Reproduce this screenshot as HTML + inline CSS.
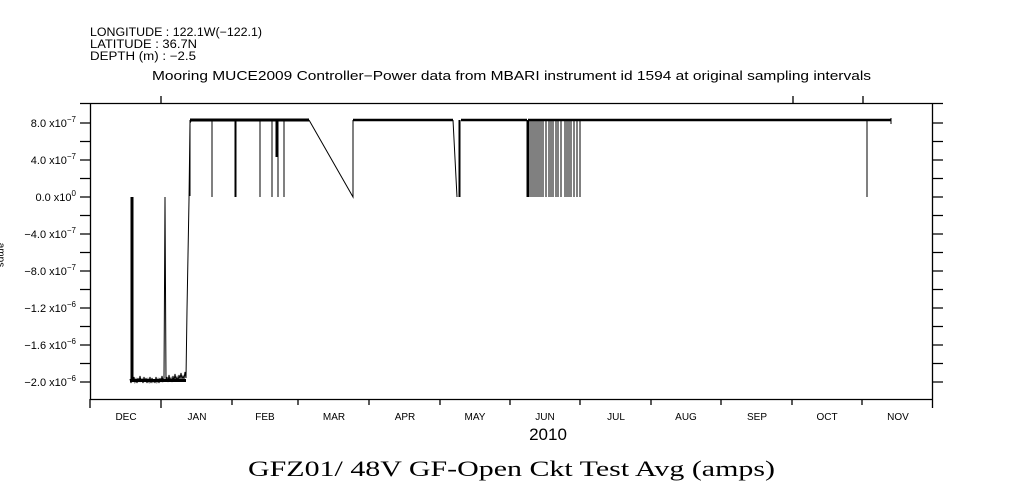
<!DOCTYPE html>
<html><head><style>
body{margin:0;background:#fff;}
svg{display:block;font-family:"Liberation Sans",sans-serif;}
</style></head><body>
<svg width="1009" height="504" viewBox="0 0 1009 504" xmlns="http://www.w3.org/2000/svg">
<rect width="1009" height="504" fill="#fff"/>
<g font-size="11.5" fill="#000">
<text x="90" y="36" textLength="172" lengthAdjust="spacingAndGlyphs">LONGITUDE : 122.1W(−122.1)</text>
<text x="90" y="48" textLength="107" lengthAdjust="spacingAndGlyphs">LATITUDE : 36.7N</text>
<text x="90" y="60" textLength="106" lengthAdjust="spacingAndGlyphs">DEPTH (m) : −2.5</text>
<text x="152" y="80" font-size="12.5" textLength="719" lengthAdjust="spacingAndGlyphs">Mooring MUCE2009 Controller−Power data from MBARI instrument id 1594 at original sampling intervals</text>
</g>
<g stroke="#000" stroke-width="1.3" fill="none">
<path d="M80 103.5H943 M90.5 103.5V399.5H933 M932.5 103.5V408"/>
<path d="M161 96V103 M793 96V103 M863 96V103"/>
<path d="M90 399V408 M161 399V408 M232 399V405 M298 399V405 M369 399V405 M440 399V405 M510 399V405 M580 399V405 M651 399V405 M721 399V405 M792 399V405 M862 399V405"/>
<path d="M80 123H90 M80 141.5H90 M80 160H90 M80 178.5H90 M80 197H90 M80 215.5H90 M80 234H90 M80 252.5H90 M80 271H90 M80 289.5H90 M80 308H90 M80 326.5H90 M80 345H90 M80 363.5H90 M80 382H90"/>
<path d="M933 123H943 M933 141.5H943 M933 160H943 M933 178.5H943 M933 197H943 M933 215.5H943 M933 234H943 M933 252.5H943 M933 271H943 M933 289.5H943 M933 308H943 M933 326.5H943 M933 345H943 M933 363.5H943 M933 382H943"/>
</g>
<g font-size="11" text-anchor="end">
<text x="76" y="127">8.0 x10<tspan font-size="8" dy="-5">−7</tspan></text>
<text x="76" y="164">4.0 x10<tspan font-size="8" dy="-5">−7</tspan></text>
<text x="76" y="201">0.0 x10<tspan font-size="8" dy="-5">0</tspan></text>
<text x="76" y="238">−4.0 x10<tspan font-size="8" dy="-5">−7</tspan></text>
<text x="76" y="275">−8.0 x10<tspan font-size="8" dy="-5">−7</tspan></text>
<text x="76" y="312">−1.2 x10<tspan font-size="8" dy="-5">−6</tspan></text>
<text x="76" y="349">−1.6 x10<tspan font-size="8" dy="-5">−6</tspan></text>
<text x="76" y="386">−2.0 x10<tspan font-size="8" dy="-5">−6</tspan></text>
</g>
<text x="-2" y="255" font-size="10" transform="rotate(90 -2 255)" text-anchor="middle">amps</text>
<g font-size="10" text-anchor="middle">
<text x="126" y="420">DEC</text><text x="197" y="420">JAN</text><text x="265" y="420">FEB</text><text x="334" y="420">MAR</text><text x="405" y="420">APR</text><text x="475" y="420">MAY</text><text x="545" y="420">JUN</text><text x="616" y="420">JUL</text><text x="686" y="420">AUG</text><text x="757" y="420">SEP</text><text x="827" y="420">OCT</text><text x="898" y="420">NOV</text>
</g>
<text x="548" y="440" font-size="17" text-anchor="middle">2010</text>
<text x="248" y="476" font-size="22" font-family="Liberation Serif,serif" textLength="527" lengthAdjust="spacingAndGlyphs">GFZ01/ 48V GF-Open Ckt Test Avg (amps)</text>
<g stroke="#000" stroke-width="1" fill="none">
<path d="M131 381V197V381 M132 381V197V381 M133 381V197"/>
<path d="M130 379 L131 383 L132 378 L133 382 L134 377 L135 382 L136 379 L137 383 L138 378 L139 382 L140 376 L141 381 L142 379 L143 383 L144 377 L145 382 L146 378 L147 383 L148 379 L149 382 L150 377 L151 383 L152 378 L153 382 L154 380 L155 383 L156 377 L157 382 L158 379 L159 383 L160 378 L161 382 L162 376 L163 381 L164 378 L165 197 L166 381 L167 377 L168 382 L169 375 L170 381 L171 378 L172 382 L173 376 L174 381 L175 374 L176 380 L177 377 L178 381 L179 375 L180 379 L181 373 L182 379 L183 376 L184 379 L185 372 L186 378 L187 310 L189 200 L190 123 L191 121"/>
<path d="M130 380.5H186" stroke-width="3"/>
<path d="M190 120H309" stroke-width="3"/>
<path d="M190 120V196 M212 120V197 M235 120V197 M236 120V197 M260 120V197 M272 120V197 M276 120V157 M277 120V157 M278 120V197 M284 120V197"/>
<path d="M309 120 L353 197 L353 120"/>
<path d="M353 120H453 M461 120H527" stroke-width="2.5"/>
<path d="M453 120 L457 197 M459 197V120 M460 197V120"/>
<path d="M527 120V197 M528 120V197 M529 197 V120"/>
<path d="M528 120H891" stroke-width="2.5"/>
<path d="M531 120V197 M533 120V197 M535 120V197 M537 120V197 M539 120V197 M541 120V197 M543 120V197 M546 120V197 M549 120V197 M551 120V197 M553 120V197 M556 120V197 M558 120V197 M561 120V197 M565 120V197 M567 120V197 M569 120V197 M571 120V197 M574 120V197 M577 120V197 M580 120V197"/>
<path d="M867 120V197 M891 118V124"/>
</g>
</svg>
</body></html>
